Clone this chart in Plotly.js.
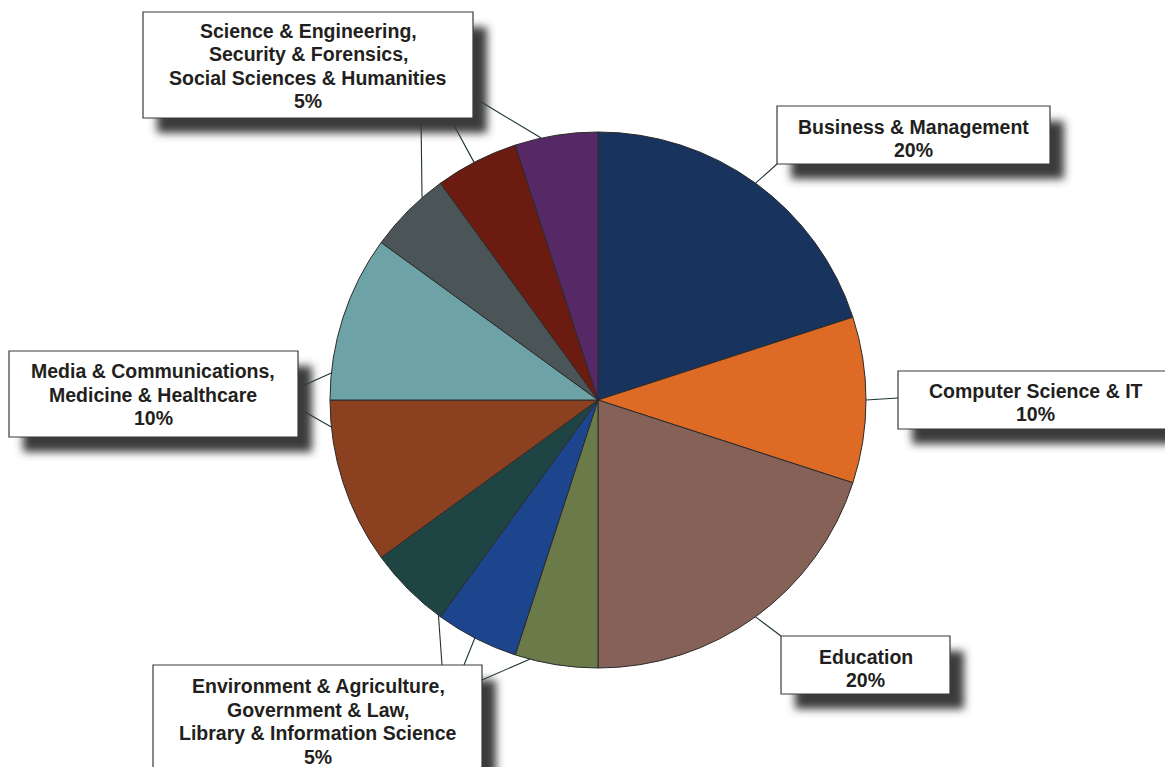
<!DOCTYPE html>
<html>
<head>
<meta charset="utf-8">
<script src="https://cdn.plot.ly/plotly-3.0.1.min.js"></script>
<style>
  html, body { margin: 0; padding: 0; background: #fff; }
  #chart { width: 1165px; height: 767px; }
</style>
</head>
<body>
<div id="chart"></div>
<script>
// ---- data ----
const categories = [
  "Business & Management",
  "Computer Science & IT",
  "Education",
  "Environment & Agriculture",
  "Government & Law",
  "Library & Information Science",
  "Media & Communications",
  "Medicine & Healthcare",
  "Science & Engineering",
  "Security & Forensics",
  "Social Sciences & Humanities"
];
const values = [20, 10, 20, 5, 5, 5, 10, 10, 5, 5, 5];
const colors = [
  "#17335e", "#dd6a25", "#866157", "#6a7a48", "#1c458e", "#1e4444",
  "#8b4120", "#6da3a7", "#4b5457", "#6b1b10", "#572866"
];
const labelLines = [
  ["Science & Engineering,", "Security & Forensics,", "Social Sciences & Humanities", "5%"],
  ["Business & Management", "20%"],
  ["Computer Science & IT", "10%"],
  ["Education", "20%"],
  ["Media & Communications,", "Medicine & Healthcare", "10%"],
  ["Environment & Agriculture,", "Government & Law,", "Library & Information Science", "5%"]
];

// ---- layout geometry (pixels) ----
const W = 1165, H = 767;
const CX = 598, CY = 400, R = 268;
const px = x => x / W;
const py = y => 1 - y / H;

const boxes = [
  [143, 12, 473, 118],
  [777, 106, 1050, 164],
  [898, 371, 1185, 429],
  [781, 636, 950, 694],
  [9, 351, 298, 437],
  [153, 665, 482, 800]
];
const textCenters = [
  [308, 66], [913.5, 138.5], [1035.5, 402.5], [865.5, 668.5], [153.5, 394.5], [318, 721.5]
];
const LINE_GAP = 23.6;
// leader lines: [slice index, fraction within slice, box-side x, box-side y]
const leaders = [
  [0, 0.5, 777, 164],
  [1, 0.5, 898, 398],
  [2, 0.5, 781, 636],
  [6, 0.84, 298, 408],
  [7, 0.16, 298, 388],
  [8, 0.72, 421, 118],
  [9, 0.47, 450, 118],
  [10, 0.32, 473, 97],
  [5, 0.03, 442, 665],
  [4, 0.52, 464, 665],
  [3, 0.82, 482, 680]
];

const total = values.reduce((a, b) => a + b, 0);
const starts = [];
let acc = 0;
values.forEach(v => { starts.push(acc); acc += v; });

const SHADOW = "rgb(58, 58, 58)";
const shapes = [];
leaders.forEach(([i, t, bx, by]) => {
  const frac = (starts[i] + t * values[i]) / total;
  const a = frac * 2 * Math.PI;
  const ex = CX + R * Math.sin(a);
  const ey = CY - R * Math.cos(a);
  shapes.push({
    type: "line", xref: "paper", yref: "paper",
    x0: px(bx), y0: py(by), x1: px(ex), y1: py(ey),
    line: { color: "#1d3434", width: 1.1 }, layer: "above"
  });
});

const SDX = 14, SDY = 15;
boxes.forEach(([x0, y0, x1, y1]) => {
  shapes.push({
    type: "rect", xref: "paper", yref: "paper",
    x0: px(x0 + SDX), x1: px(x1 + SDX),
    y0: py(y0 + SDY), y1: py(y1 + SDY),
    fillcolor: SHADOW, line: { width: 0 }, layer: "above"
  });
});
boxes.forEach(([x0, y0, x1, y1]) => {
  shapes.push({
    type: "rect", xref: "paper", yref: "paper",
    x0: px(x0), x1: px(x1), y0: py(y0), y1: py(y1),
    fillcolor: "#ffffff", line: { color: "#3a3a3a", width: 1.2 }, layer: "above"
  });
});

const annotations = [];
labelLines.forEach((lines, i) => {
  const [cx, cy] = textCenters[i];
  lines.forEach((ln, k) => {
    const y = cy + (k - (lines.length - 1) / 2) * LINE_GAP;
    annotations.push({
      xref: "paper", yref: "paper",
      x: px(cx), y: py(y),
      xanchor: "center", yanchor: "middle", align: "center",
      text: "<b>" + ln + "</b>", showarrow: false,
      font: { family: "Liberation Sans, Arial, sans-serif", size: 19.5, color: "#231f20" }
    });
  });
});

const trace = {
  type: "pie",
  labels: categories,
  values: values,
  sort: false,
  direction: "clockwise",
  rotation: 0,
  textinfo: "none",
  hoverinfo: "none",
  marker: { colors: colors, line: { color: "#2b2b2b", width: 1 } },
  domain: { x: [px(CX - R), px(CX + R)], y: [py(CY + R), py(CY - R)] },
  showlegend: false
};

Plotly.newPlot("chart", [trace], {
  width: W, height: H,
  margin: { l: 0, r: 0, t: 0, b: 0 },
  paper_bgcolor: "#ffffff",
  showlegend: false,
  shapes: shapes,
  annotations: annotations
}, { displayModeBar: false, staticPlot: true }).then(gd => {
  const NS = "http://www.w3.org/2000/svg";
  const svg = gd.querySelector("svg.main-svg");
  let defs = svg.querySelector("defs");
  if (!defs) { defs = document.createElementNS(NS, "defs"); svg.insertBefore(defs, svg.firstChild); }
  const f = document.createElementNS(NS, "filter");
  f.setAttribute("id", "boxShadowBlur");
  f.setAttribute("x", "-30%"); f.setAttribute("y", "-60%");
  f.setAttribute("width", "160%"); f.setAttribute("height", "220%");
  const b = document.createElementNS(NS, "feGaussianBlur");
  b.setAttribute("stdDeviation", "4.5");
  f.appendChild(b);
  defs.appendChild(f);
  gd.querySelectorAll(".shapelayer path").forEach(p => {
    const fill = (p.style.fill || p.getAttribute("fill") || "").replace(/\s/g, "");
    if (fill === SHADOW.replace(/\s/g, "")) p.setAttribute("filter", "url(#boxShadowBlur)");
  });
});
</script>
</body>
</html>
